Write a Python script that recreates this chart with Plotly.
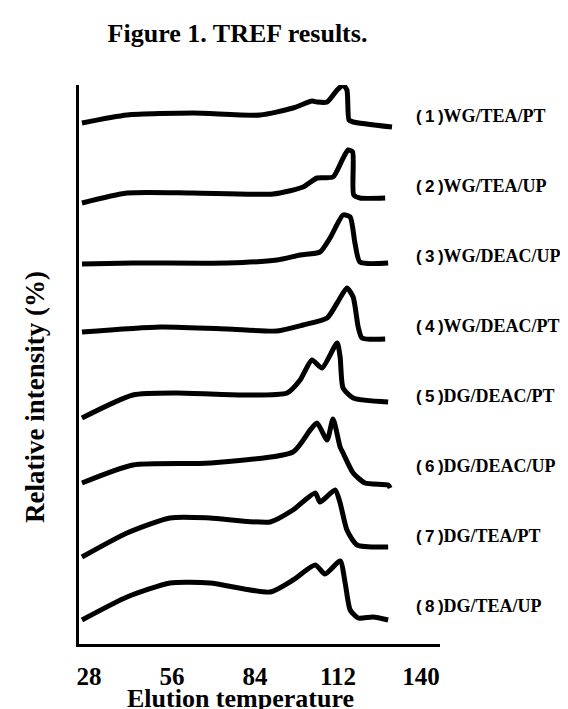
import plotly.graph_objects as go

# ---- data ----
labels = ["(1)WG/TEA/PT", "(2)WG/TEA/UP", "(3)WG/DEAC/UP", "(4)WG/DEAC/PT",
          "(5)DG/DEAC/PT", "(6)DG/DEAC/UP", "(7)DG/TEA/PT", "(8)DG/TEA/UP"]
offsets = [49, 42, 35, 28, 21, 14, 7, 0]
x_ticks = [28, 56, 84, 112, 140]

t1 = [25.6, 40.8, 63.1, 85.7, 96.8, 103.2, 104.9, 108.3, 111.7, 113.7, 115.0, 115.7, 117.1, 130.2]
i1 = [3.1, 3.9, 4.1, 3.9, 4.6, 5.3, 5.2, 5.2, 6.4, 6.9, 6.4, 3.4, 3.2, 2.7]

t2 = [25.6, 40.8, 63.1, 90.1, 100.2, 104.9, 110.3, 113.4, 115.4, 116.9, 117.3, 119.4, 127.9]
i2 = [2.1, 3.1, 3.1, 3.0, 3.7, 4.6, 4.7, 6.4, 7.4, 7.2, 2.9, 2.6, 2.6]

t3 = [25.6, 42.8, 74.6, 91.4, 99.2, 105.9, 109.3, 113.7, 116.1, 117.7, 119.4, 128.9]
i3 = [3.0, 3.1, 3.1, 3.4, 3.9, 4.2, 5.6, 7.9, 7.7, 5.1, 3.2, 3.1]

t4 = [25.6, 52.0, 74.6, 91.4, 100.2, 108.3, 111.7, 115.0, 117.1, 118.8, 120.1, 127.9]
i4 = [3.2, 3.7, 3.5, 3.3, 3.9, 4.6, 6.1, 7.6, 6.7, 3.7, 2.6, 2.5]

t5 = [25.6, 42.8, 57.7, 80.0, 94.8, 99.2, 103.2, 106.6, 111.7, 112.7, 113.7, 117.1, 128.9]
i5 = [1.6, 3.9, 4.1, 3.9, 4.1, 5.4, 7.4, 6.6, 9.1, 7.7, 4.6, 3.6, 3.2]

t6 = [25.6, 42.8, 68.8, 96.8, 102.6, 104.9, 108.3, 110.3, 112.7, 113.7, 117.1, 121.1, 128.9, 129.6]
i6 = [2.1, 3.9, 4.1, 5.2, 7.4, 8.1, 6.4, 8.5, 5.7, 5.1, 3.1, 2.1, 1.9, 1.6]

t7 = [25.6, 40.8, 55.3, 68.8, 89.1, 96.8, 104.3, 105.9, 111.0, 112.7, 115.0, 118.4, 128.9]
i7 = [1.7, 4.1, 5.6, 5.6, 5.2, 6.4, 8.1, 7.2, 8.4, 7.1, 4.4, 2.9, 2.7]

t8 = [25.6, 40.8, 55.3, 68.8, 89.1, 96.8, 104.3, 107.6, 112.7, 114.4, 116.1, 118.8, 123.8, 128.9]
i8 = [2.4, 4.7, 6.1, 6.1, 5.2, 6.4, 7.9, 7.0, 8.3, 6.1, 3.4, 2.6, 2.7, 2.4]

temps = [t1, t2, t3, t4, t5, t6, t7, t8]
intens = [i1, i2, i3, i4, i5, i6, i7, i8]

SERIF = "Liberation Serif, Times New Roman, serif"
SANS = "Liberation Sans, Arial, sans-serif"

W, H = 560, 701
ML, MR, MT, MB = 71, 128, 77, 65
PW, PH = W - ML - MR, H - MT - MB

fig = go.Figure()
for t, i, off in zip(temps, intens, offsets):
    fig.add_trace(go.Scatter(
        x=t, y=[v + off for v in i], mode="lines",
        line=dict(color="black", width=5, shape="spline", smoothing=0.6),
        showlegend=False, hoverinfo="skip"))

for lab, off in zip(labels, offsets):
    num, name = lab.split(")", 1)
    num = num + ")"
    fig.add_annotation(
        x=(406 - ML) / PW, xref="paper", y=off + 3.8, yref="y",
        xanchor="left", yanchor="middle", showarrow=False,
        text=f"<span style='font-family:{SANS};font-size:17px'>{num[0]}\u2009{num[1:-1]}\u2009{num[-1]}</span>{name}",
        font=dict(family=SERIF, size=18, color="black", weight="bold"))

# axis titles
fig.add_annotation(x=(232 - ML) / PW, xref="paper", y=-(690 - (MT + PH)) / PH, yref="paper",
                   xanchor="center", yanchor="middle", showarrow=False,
                   text="Elution temperature",
                   font=dict(family=SERIF, size=26, color="black", weight="bold"))
fig.add_annotation(x=(27 - ML) / PW, xref="paper", y=((MT + PH) - 389) / PH, yref="paper",
                   xanchor="center", yanchor="middle", showarrow=False, textangle=-90,
                   text="Relative intensity (%)",
                   font=dict(family=SERIF, size=27, color="black", weight="bold"))

fig.update_layout(
    width=W, height=H,
    margin=dict(l=ML, r=MR, t=MT, b=MB),
    paper_bgcolor="white", plot_bgcolor="white",
    title=dict(text="Figure 1. TREF results.", x=229.5 / W, xanchor="center",
               y=1 - 25 / H, yanchor="middle", yref="container",
               font=dict(family=SERIF, size=26, color="black", weight="bold")),
    xaxis=dict(range=[24.6, 146.4], showgrid=False, zeroline=False,
               showline=True, linecolor="black", linewidth=3,
               tickmode="array", tickvals=x_ticks, ticks="",
               ticklabelstandoff=8,
               tickfont=dict(family=SERIF, size=25, color="black", weight="bold")),
    yaxis=dict(range=[0, 55.9], showgrid=False, zeroline=False,
               showline=True, linecolor="black", linewidth=3,
               showticklabels=False, ticks=""),
)

fig.write_html("out.html")
